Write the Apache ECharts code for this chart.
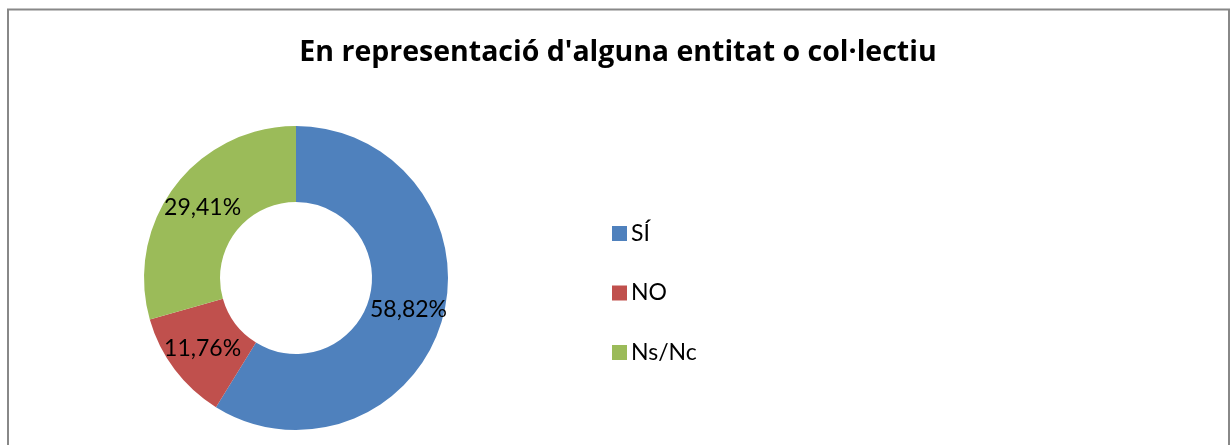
<!DOCTYPE html>
<html>
<head>
<meta charset="utf-8">
<script src="https://cdn.jsdelivr.net/npm/echarts@6/dist/echarts.min.js"></script>
<style>
  html, body { margin: 0; padding: 0; background: #fff; }
  #chart { width: 1231px; height: 445px; }
</style>
</head>
<body>
<div id="chart"></div>
<script>
// dades del gràfic
const categories = ['SÍ', 'NO', 'Ns/Nc']
const percents = [58.82, 11.76, 29.41]
const colors = ['#4F81BD', '#C0504D', '#9BBB59']

const chart = echarts.init(document.getElementById('chart'), null, { renderer: 'canvas' })

let pieData = []
categories.forEach((name, i) => {
    pieData.push({ name: name, value: percents[i], itemStyle: { color: colors[i] } })
})

const option = {
    backgroundColor: '#fff',
    animation: false,
    title: {
        text: "En representació d'alguna entitat o col·lectiu",
        left: 613,
        top: 33,
        textAlign: 'center',
        textStyle: {
            fontFamily: 'Open Sans',
            fontWeight: 'bold',
            fontSize: 28.5,
            color: '#000'
        }
    },
    legend: {
        orient: 'vertical',
        left: 607,
        top: 217,
        itemWidth: 15,
        itemHeight: 15,
        itemGap: 36.5,
        icon: 'rect',
        textStyle: {
            fontFamily: 'Lato',
            fontSize: 23,
            lineHeight: 23,
            color: '#000',
            padding: [0, 0, 0, -1]
        },
        data: categories
    },
    graphic: [
        {
            type: 'rect',
            shape: { x: 8, y: 9.5, width: 1221, height: 450 },
            style: { fill: 'none', stroke: '#888', lineWidth: 2 },
            silent: true
        }
    ],
    series: [
        {
            type: 'pie',
            center: [296, 278],
            radius: [76, 152],
            startAngle: 90,
            clockwise: true,
            avoidLabelOverlap: false,
            label: {
                show: true,
                position: 'inside',
                fontFamily: 'Lato',
                fontSize: 23,
                color: '#000',
                formatter: p => p.value.toFixed(2).replace('.', ',') + '%'
            },
            labelLine: { show: false },
            itemStyle: { borderWidth: 0 },
            emphasis: { disabled: true },
            data: pieData
        }
    ]
}

chart.setOption(option)
</script>
</body>
</html>
